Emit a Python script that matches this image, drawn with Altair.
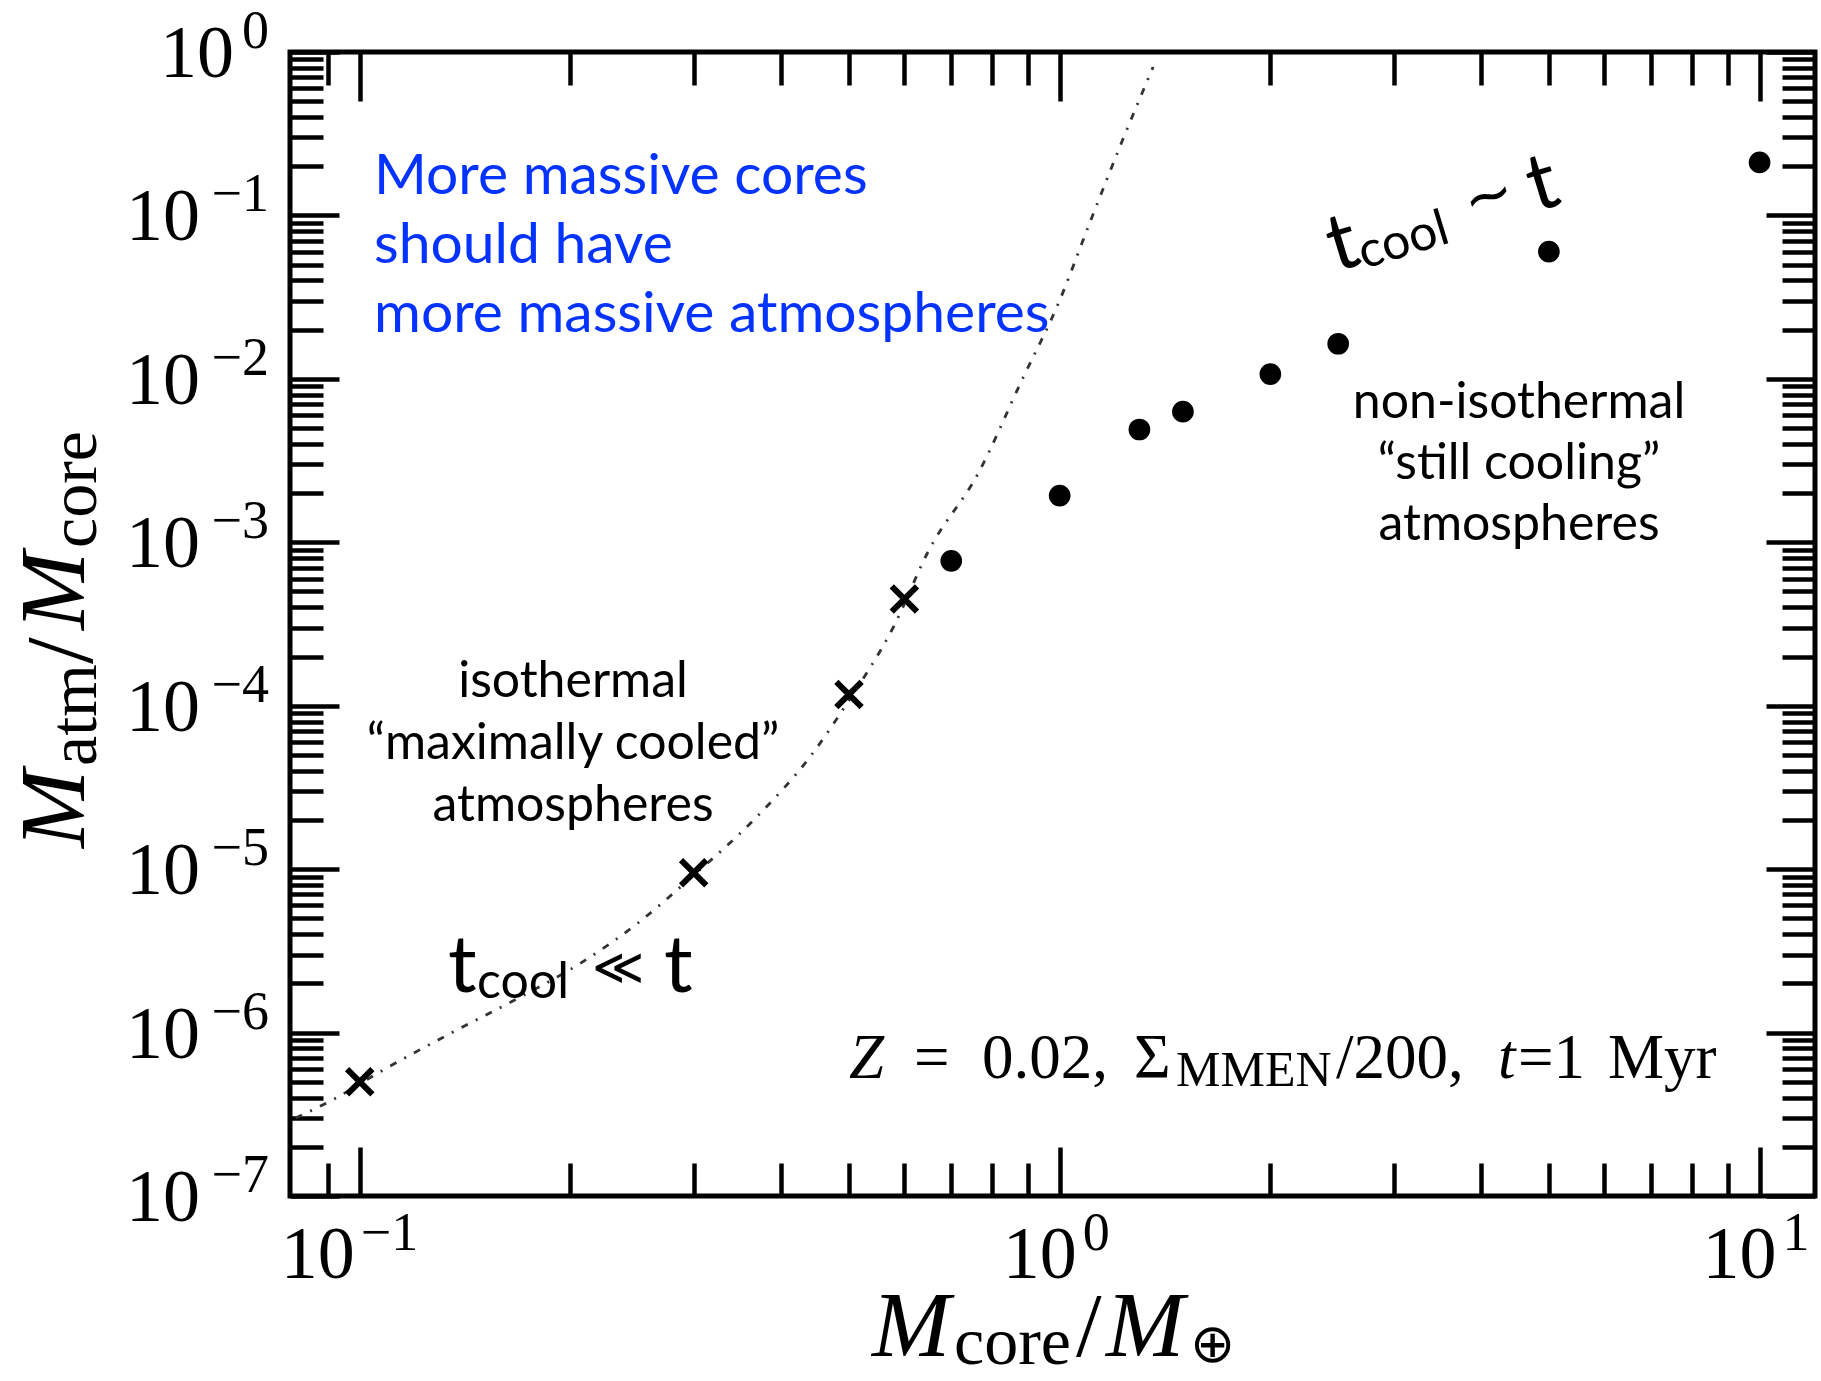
import altair as alt
import pandas as pd

# ---------------- data ----------------
curve_mcore = [0.081, 0.0927, 0.108, 0.1355, 0.1705, 0.2065, 0.25, 0.2985, 0.3655, 0.442,
               0.498, 0.578, 0.650, 0.766, 0.881, 0.998, 1.104, 1.228, 1.36]
curve_ratio = [3.0e-7, 4.0e-7, 5.9e-7, 1.0e-6, 1.67e-6, 2.65e-6, 4.7e-6, 9.0e-6, 2.0e-5, 5.0e-5,
               1.05e-4, 3.0e-4, 8.9e-4, 2.67e-3, 9.6e-3, 2.96e-2, 9.0e-2, 0.284, 0.81]

iso_mcore = [0.1, 0.3, 0.5, 0.6]
iso_ratio = [5.0e-7, 9.5e-6, 1.17e-4, 4.5e-4]

noniso_mcore = [0.7, 1.0, 1.3, 1.5, 2.0, 2.5, 5.0, 10.0]
noniso_ratio = [7.7e-4, 1.93e-3, 4.9e-3, 6.3e-3, 1.07e-2, 1.64e-2, 6.0e-2, 2.11e-1]

x_major = [0.1, 1.0, 10.0]
x_minor = [0.09, 0.2, 0.3, 0.4, 0.5, 0.6, 0.7, 0.8, 0.9, 2.0, 3.0, 4.0, 5.0, 6.0, 7.0, 8.0, 9.0]
y_major = [1e-7, 1e-6, 1e-5, 1e-4, 1e-3, 1e-2, 1e-1, 1.0]
y_minor = [m * 10.0 ** e for e in range(-7, 0) for m in range(2, 10)]

x_tick_base = ["10", "10", "10"]
x_tick_exp = ["\u22121", "0", "1"]
y_tick_base = ["10"] * 8
y_tick_exp = ["\u22127", "\u22126", "\u22125", "\u22124", "\u22123", "\u22122", "\u22121", "0"]

# ---------------- layout ----------------
LEFT, TOP, W, H = 290, 52, 1525, 1144
TOTAL_W, TOTAL_H = 1821, 1381
SERIF = "Liberation Serif"
SANS = "Lato"
BLUE = "#0433FF"

xscale = alt.Scale(type="log", domain=[0.0795, 12.0], nice=False)
yscale = alt.Scale(type="log", domain=[1e-7, 1.0], nice=False)

curve_df = pd.DataFrame({"mcore": curve_mcore, "ratio": curve_ratio})
iso_df = pd.DataFrame({"mcore": iso_mcore, "ratio": iso_ratio})
noniso_df = pd.DataFrame({"mcore": noniso_mcore, "ratio": noniso_ratio})
xlab_df = pd.DataFrame({"value": x_major, "base": x_tick_base, "exp": x_tick_exp,
                        "neg": [e.startswith("\u2212") for e in x_tick_exp]})
ylab_df = pd.DataFrame({"value": y_major, "base": y_tick_base, "exp": y_tick_exp,
                        "neg": [e.startswith("\u2212") for e in y_tick_exp]})
one = pd.DataFrame({"k": [0]})


def ticks(orient, values, length):
    return alt.Axis(orient=orient, values=values, tickSize=length, offset=-length,
                    labels=False, domain=False, grid=False, title="",
                    tickColor="black", tickWidth=4.5)


X_PATH = "M-1,-1L1,1M-1,1L1,-1"

curve = alt.Chart(curve_df).mark_line(
    color="#333333", strokeWidth=2.8, strokeDash=[7, 9, 2, 9], interpolate="monotone"
).encode(
    x=alt.X("mcore:Q", scale=xscale, axis=ticks("bottom", x_major, 49)),
    y=alt.Y("ratio:Q", scale=yscale, axis=ticks("left", y_major, 49)),
)

crosses = alt.Chart(iso_df).mark_point(
    shape=X_PATH, size=640, strokeWidth=6, color="black", filled=False, opacity=1
).encode(
    x=alt.X("mcore:Q", scale=xscale, axis=ticks("bottom", x_minor, 33)),
    y=alt.Y("ratio:Q", scale=yscale, axis=ticks("left", y_minor, 33)),
)

dots = alt.Chart(noniso_df).mark_circle(size=470, color="black", opacity=1).encode(
    x=alt.X("mcore:Q", scale=xscale, axis=ticks("top", x_major, 49)),
    y=alt.Y("ratio:Q", scale=yscale, axis=ticks("right", y_major, 49)),
)

BASE_SIZE, EXP_SIZE = 74, 54


# ---- tick labels (10 with raised exponent) ----
def xlabel_layers(neg, shift, with_axis):
    base = alt.Chart(xlab_df).transform_filter(f"datum.neg == {str(neg).lower()}")
    if with_axis:
        xenc = alt.X("value:Q", scale=xscale, axis=ticks("top", x_minor, 33))
    else:
        xenc = alt.X("value:Q", scale=xscale, axis=None)
    b = base.mark_text(font=SERIF, fontSize=BASE_SIZE, align="right", baseline="alphabetic", dx=shift).encode(
        x=xenc, y=alt.value(1278 - TOP), text="base:N")
    e = base.mark_text(font=SERIF, fontSize=EXP_SIZE, align="left", baseline="alphabetic", dx=shift + 6).encode(
        x=alt.X("value:Q", scale=xscale, axis=None), y=alt.value(1250 - TOP), text="exp:N")
    return [b, e]


xl = xlabel_layers(True, -5, True) + xlabel_layers(False, 17, False)

yexp = alt.Chart(ylab_df).mark_text(font=SERIF, fontSize=EXP_SIZE, align="right", baseline="alphabetic", dy=-4).encode(
    y=alt.Y("value:Q", scale=yscale, axis=ticks("right", y_minor, 33)),
    x=alt.value(-21), text="exp:N")
ybase_neg = alt.Chart(ylab_df).transform_filter("datum.neg == true").mark_text(
    font=SERIF, fontSize=BASE_SIZE, align="right", baseline="alphabetic", dy=25).encode(
    y=alt.Y("value:Q", scale=yscale, axis=None), x=alt.value(-90), text="base:N")
ybase_pos = alt.Chart(ylab_df).transform_filter("datum.neg == false").mark_text(
    font=SERIF, fontSize=BASE_SIZE, align="right", baseline="alphabetic", dy=25).encode(
    y=alt.Y("value:Q", scale=yscale, axis=None), x=alt.value(-56), text="base:N")


# ---- annotation text ----
def txt(s, X, Y, size, font=SANS, color="black", style="normal", align="left", angle=0):
    return alt.Chart(one).mark_text(
        text=s, font=font, fontSize=size, color=color, fontStyle=style,
        align=align, baseline="alphabetic", angle=angle
    ).encode(x=alt.value(X - LEFT), y=alt.value(Y - TOP))


ann = [
    # blue statement
    txt("More massive cores", 374, 194, 57, color=BLUE),
    txt("should have", 374, 263, 57, color=BLUE),
    txt("more massive atmospheres", 374, 332, 57, color=BLUE),
    # non-isothermal block
    txt("non-isothermal", 1519, 418, 50, align="center"),
    txt("\u201cstill cooling\u201d", 1519, 479, 50, align="center"),
    txt("atmospheres", 1519, 540, 50, align="center"),
    # isothermal block
    txt("isothermal", 573, 697, 50, align="center"),
    txt("\u201cmaximally cooled\u201d", 573, 759, 50, align="center"),
    txt("atmospheres", 573, 821, 50, align="center"),
    # t_cool << t
    txt("t", 448, 992, 80),
    txt("cool", 477, 998, 50),
    txt("\u226a", 592, 984, 50, font="DejaVu Sans"),
    txt("t", 664, 992, 80),
    # t_cool ~ t (rotated)
    txt("t", 1336, 272, 80, angle=343),
    txt("cool", 1364, 269, 50, angle=343),
    txt("~", 1470, 222, 60, font="DejaVu Sans", angle=343),
    txt("t", 1536, 212, 80, angle=343),
    # parameters
    txt("Z", 849, 1078, 63, font=SERIF, style="italic"),
    txt("=", 914, 1078, 63, font=SERIF),
    txt("0.02,", 982, 1078, 63, font=SERIF),
    txt("\u03a3", 1134, 1078, 63, font=SERIF),
    txt("MMEN", 1176, 1086, 50, font=SERIF),
    txt("/200,", 1336, 1078, 63, font=SERIF),
    txt("t", 1498, 1078, 63, font=SERIF, style="italic"),
    txt("=1", 1518, 1078, 63, font=SERIF),
    txt("Myr", 1608, 1078, 63, font=SERIF),
    # x axis title
    txt("M", 872, 1356, 94, font=SERIF, style="italic"),
    txt("core", 954, 1364, 68, font=SERIF),
    txt("/", 1076, 1356, 92, font=SERIF),
    txt("M", 1106, 1356, 94, font=SERIF, style="italic"),
    txt("\u2295", 1190, 1362, 54, font="DejaVu Sans"),
    # y axis title (rotated)
    txt("M", 84, 848, 94, font=SERIF, style="italic", angle=270),
    txt("atm", 96, 766, 68, font=SERIF, angle=270),
    txt("/", 92, 664, 96, font=SERIF, angle=270),
    txt("M", 84, 630, 94, font=SERIF, style="italic", angle=270),
    txt("core", 96, 548, 68, font=SERIF, angle=270),
]

layers = [curve, crosses, dots] + xl + [yexp, ybase_neg, ybase_pos] + ann

chart = alt.layer(*layers).resolve_axis(
    x="independent", y="independent"
).properties(
    width=W, height=H,
    autosize=alt.AutoSizeParams(type="none"),
    padding={"left": LEFT, "top": TOP, "right": TOTAL_W - LEFT - W, "bottom": TOTAL_H - TOP - H},
    background="white",
).configure_view(stroke="black", strokeWidth=5)

chart.save("out.html", embed_options={"renderer": "svg", "actions": False})
